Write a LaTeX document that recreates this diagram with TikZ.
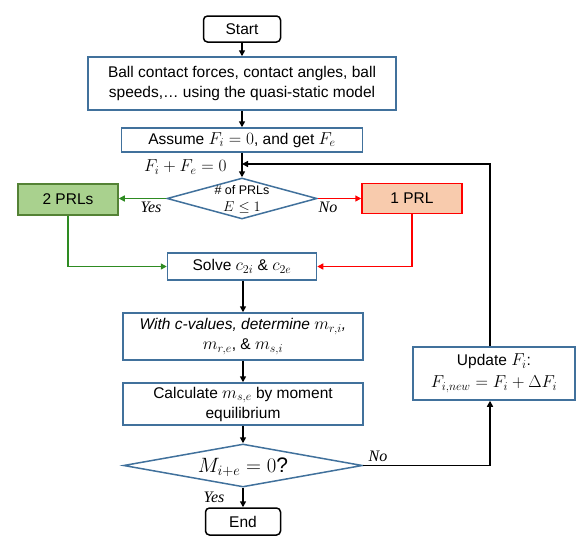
\documentclass[tikz,border=0pt]{standalone}
\usepackage{fontspec}
\setmainfont{Liberation Sans}
\newfontfamily\lblfont{Liberation Serif}
\usetikzlibrary{shapes.geometric,arrows.meta}

\definecolor{boxblue}{RGB}{65,113,156}
\definecolor{prlgreen}{RGB}{84,130,53}
\definecolor{prlgreenfill}{RGB}{169,209,142}
\definecolor{arrgreen}{RGB}{46,139,34}
\definecolor{prlredfill}{RGB}{248,203,173}

% math set a little larger, as in the original
\newcommand{\mth}[1]{{\fontsize{18}{20}\selectfont$#1$}}

\tikzset{
  every node/.style={font=\fontsize{15.5}{20}\selectfont},
  procbox/.style={draw=boxblue,line width=1.5pt,align=center,inner sep=1pt},
  termbox/.style={draw=black,line width=1.5pt,rounded corners=4pt,align=center},
  decbox/.style={draw=boxblue,line width=1.5pt,diamond,inner sep=0pt},
  flow/.style={line width=1.6pt,-{Triangle[length=6pt,width=6pt]}},
  yesno/.style={font=\fontsize{16}{18}\selectfont\lblfont\itshape}
}

\begin{document}
\begin{tikzpicture}[x=1pt,y=-1pt]
\useasboundingbox (0,0) rectangle (586,546);
% main column
\node[termbox,minimum width=77pt,minimum height=26pt] (start) at (242,29) {Start};
\node[procbox,minimum width=308pt,minimum height=53pt] (quasi) at (242,83.5)
  {Ball contact forces, contact angles, ball\\speeds,\ldots\ using the quasi-static model};
\node[procbox,minimum width=241pt,minimum height=24pt] (assume) at (242,140)
  {Assume \mth{F_i=0}, and get \mth{F_e}};
\node[decbox,minimum width=150pt,minimum height=41pt] (numprl) at (242,198.5) {};
\node[align=center,font=\fontsize{12.5}{17}\selectfont,inner sep=0pt] (numprltxt) at (242,199)
  {\# of PRLs\\{\fontsize{15}{15}\selectfont$E\le 1$}};
\node[procbox,draw=prlgreen,fill=prlgreenfill,minimum width=100pt,minimum height=31pt] (twoprl) at (68,199.5) {2 PRLs};
\node[procbox,draw=red,fill=prlredfill,minimum width=100pt,minimum height=30pt] (oneprl) at (412,198.5) {1 PRL};
\node[procbox,minimum width=149pt,minimum height=27pt] (solve) at (242,266.5)
  {Solve \mth{c_{2i}} \& \mth{c_{2e}}};
\node[procbox,minimum width=240pt,minimum height=47pt] (cval) at (243,336.5)
  {\itshape With c-values, determine \mth{m_{r,i}},\\\mth{m_{r,e}}, \& \mth{m_{s,i}}};
\node[procbox,minimum width=240pt,minimum height=42pt] (calc) at (243,404)
  {Calculate \mth{m_{s,e}} by moment\\equilibrium};
\node[decbox,minimum width=239pt,minimum height=43pt] (moment) at (243,465.5) {};
\node[font=\fontsize{21}{22}\selectfont] (momenttxt) at (243,467) {$M_{i+e}=0$?};
\node[termbox,minimum width=75pt,minimum height=27pt] (finish) at (243,521.5) {End};
% update branch
\node[procbox,minimum width=162pt,minimum height=53pt,font=\fontsize{15.5}{22}\selectfont] (update) at (494,373.5)
  {Update \mth{F_i}:\\\mth{F_{i,new}=F_i+\Delta F_i}};
\coordinate (join) at (242,164);

% labels
\node[anchor=east] (sumlbl) at (230,167) {\mth{F_i+F_e=0}};
\node[yesno] (yes1) at (151,207) {Yes};
\node[yesno] (no1) at (328,207) {No};
\node[yesno] (yes2) at (214,497) {Yes};
\node[yesno] (no2) at (378,456) {No};

% connectors
\draw[flow] (start) -- (quasi);
\draw[flow] (quasi) -- (assume);
\draw[flow] (assume) -- (numprl);
\draw[flow,arrgreen] (numprl.west) -- (twoprl.east |- numprl.west);
\draw[flow,red] (numprl.east) -- (oneprl.west |- numprl.east);
\draw[flow,arrgreen] (twoprl.south) |- (solve.west);
\draw[flow,red] (oneprl.south) |- (solve.east);
\draw[flow] (solve.south -| cval.north) -- (cval.north);
\draw[flow] (cval) -- (calc);
\draw[flow] (calc) -- (moment);
\draw[flow] (moment) -- (finish);
\draw[flow] (moment.east) -| (update.south -| 490,0);
\draw[flow] (update.north -| 490,0) |- (join);
\end{tikzpicture}
\end{document}
